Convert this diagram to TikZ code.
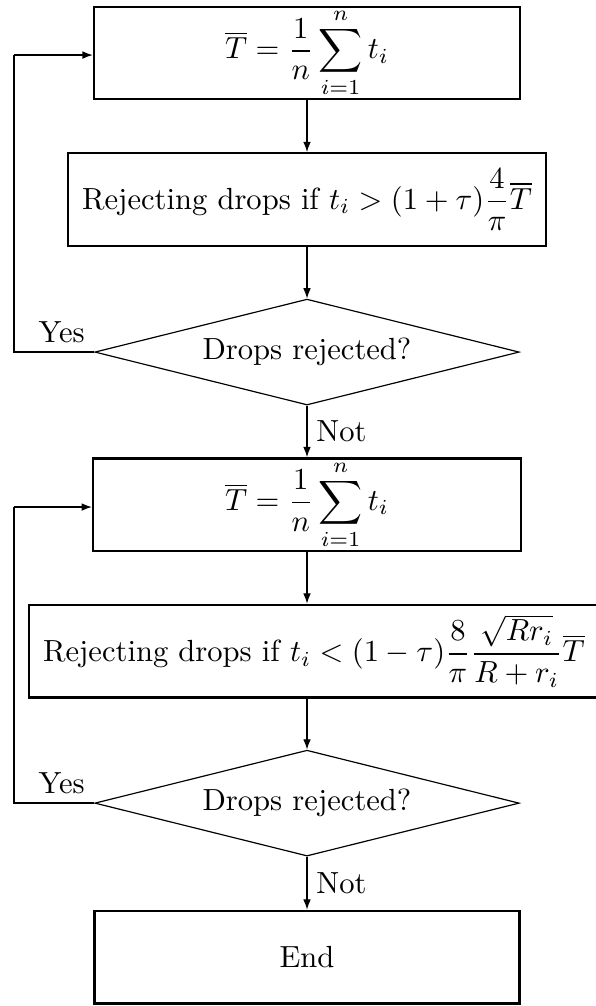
\documentclass[tikz,border=0pt]{standalone}
\usepackage{fix-cm}
\usepackage{amsmath}
\usepackage{amssymb}
\usetikzlibrary{arrows.meta,positioning,shapes.geometric}

\begin{document}
\begin{tikzpicture}[
    >={Latex[length=3.5pt,width=2.6pt]},
    every node/.style={font=\fontsize{10.35pt}{12.4pt}\selectfont},
    blk/.style={rectangle, draw, line width=0.8pt, minimum height=1.1cm, inner sep=0pt},
    dec/.style={diamond, draw, aspect=4, minimum width=5.05cm, minimum height=1.26cm, inner sep=0pt},
    lbl/.style={inner sep=3pt},
    back/.style={line width=0.8pt}
]
    \useasboundingbox (0,0) rectangle (7.08,-11.97);

    \node[blk, minimum width=5.07cm] (B1) at (3.653,-0.631) {$\displaystyle \overline{T}=\frac{1}{n}\sum_{i=1}^{n} t_i$};
    \node[blk, minimum width=5.69cm] (B2) at (3.653,-2.374) {Rejecting drops if $t_i>(1+\tau)\dfrac{4}{\pi}\overline{T}$};
    \node[dec] (D1) at (3.653,-4.189) {Drops rejected?};
    \node[blk, minimum width=5.09cm] (B3) at (3.653,-6.004) {$\displaystyle \overline{T}=\frac{1}{n}\sum_{i=1}^{n} t_i$};
    \node[blk, inner xsep=4.7pt, anchor=west] (B4) at (0.333,-7.747) {Rejecting drops if $t_i<(1-\tau)\dfrac{8}{\pi}\dfrac{\sqrt{Rr_i}}{R+r_i}\overline{T}$};
    \node[dec] (D2) at (3.653,-9.556) {Drops rejected?};
    \node[blk, minimum width=5.06cm] (B5) at (3.653,-11.388) {End};

    \coordinate (F1a) at (0.167,-4.189);
    \coordinate (F1b) at (0.167,-0.655);
    \coordinate (F2a) at (0.167,-9.556);
    \coordinate (F2b) at (0.167,-6.033);

    \draw[->] (B1) -- (B2);
    \draw[->] (B2) -- (D1);
    \draw[->] (D1) -- node[lbl, right] {Not} (B3);
    \draw[->] (B3.south) -- (B3.south |- B4.north);
    \draw[->] (B4.south -| D2.north) -- (D2);
    \draw[->] (D2) -- node[lbl, right] {Not} (B5);

    \draw[back] (D1.west) -- (F1a) -- (F1b);
    \draw[->] (F1b) -- (F1b -| B1.west);
    \draw[back] (D2.west) -- (F2a) -- (F2b);
    \draw[->] (F2b) -- (F2b -| B3.west);

    \node[lbl, above left] at (D1.west) {Yes};
    \node[lbl, above left] at (D2.west) {Yes};
\end{tikzpicture}
\end{document}
